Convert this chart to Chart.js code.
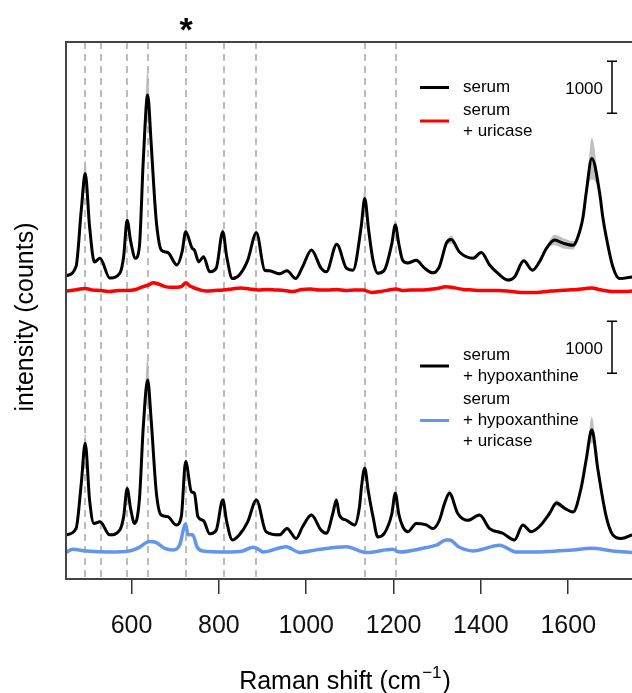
<!DOCTYPE html>
<html>
<head>
<meta charset="utf-8">
<script src="https://cdn.jsdelivr.net/npm/chart.js@4"></script>
<style>
  html, body { margin: 0; padding: 0; background: #fff; }
</style>
</head>
<body>
<canvas id="myChart" width="632" height="693"></canvas>
<script>
'use strict';
// Raman spectra, values (counts, stacked as plotted)
var serumShift = [450,473,485,494,504,515,528,550,573,582,590,598,609,618,627,637,645,653,658,668,683,704,716,724,739,744,754,765,779,794,809,818,831,847,866,886,905,916,939,956,976,992,1012,1034,1046,1070,1092,1107,1126,1134,1143,1153,1164,1179,1196,1204,1212,1221,1233,1252,1271,1290,1305,1321,1332,1351,1382,1401,1420,1439,1462,1477,1498,1518,1534,1550,1569,1588,1611,1626,1634,1641,1654,1672,1679,1687,1702,1717,1746];
var serumCounts = [5830,6010,7100,7800,6780,6100,6170,5790,5880,6200,6900,6500,6170,6390,8060,9310,8380,7290,6780,6330,6280,6040,6300,6680,6360,6330,6100,6200,5910,5980,6680,6200,5780,5850,6130,6660,5940,5930,5870,5930,5780,6010,6330,5980,5910,6440,5980,5940,6780,7320,6710,6130,5880,5940,6450,6810,6450,6130,6080,6130,5980,5890,6010,6460,6530,6290,6170,6280,6040,5880,5750,5810,6120,5940,6100,6360,6520,6460,6420,6680,6970,7420,8090,7420,6970,6580,6010,5780,5810];
// standard deviation (grey band), only where it shows
var serumSd = {494: 250, 590: 130, 637: 520, 724: 60, 809: 60, 886: 60, 1134: 190, 1204: 100, 1332: 80, 1569: 100, 1588: 100, 1611: 80, 1654: 400};

var uricaseShift = [450,470,494,510,530,550,570,590,610,625,640,650,660,675,690,705,715,724,735,750,770,790,810,830,850,870,890,910,930,950,970,990,1010,1030,1050,1070,1090,1110,1130,1150,1170,1190,1205,1220,1240,1260,1280,1300,1320,1340,1360,1380,1400,1420,1440,1460,1480,1500,1520,1540,1560,1580,1600,1620,1640,1655,1670,1690,1710,1730,1746];
var uricaseCounts = [5540,5560,5590,5560,5550,5530,5550,5550,5570,5620,5660,5700,5680,5630,5610,5610,5630,5700,5630,5580,5540,5550,5560,5580,5600,5580,5560,5570,5560,5550,5530,5570,5580,5560,5560,5570,5550,5560,5560,5510,5530,5560,5580,5550,5560,5560,5570,5590,5620,5600,5570,5560,5550,5550,5550,5540,5520,5510,5510,5520,5540,5550,5560,5570,5590,5600,5570,5540,5530,5530,5540];

var hypoShift = [450,473,485,494,504,514,528,550,573,582,590,598,607,618,627,637,645,657,668,683,702,714,724,737,744,752,765,779,794,809,818,831,847,866,886,908,939,956,977,992,1012,1034,1046,1061,1069,1076,1092,1111,1122,1127,1134,1142,1153,1164,1179,1196,1204,1212,1221,1233,1252,1275,1290,1305,1317,1328,1347,1370,1397,1420,1450,1477,1496,1515,1534,1557,1573,1592,1611,1630,1641,1654,1668,1687,1702,1721,1746];
var hypoCounts = [850,970,1840,2610,1520,1070,1100,850,940,1200,1740,1350,1070,1520,2930,3830,3060,1650,1230,1200,1040,1200,2260,1680,1650,1200,1120,870,940,1520,1100,750,850,1100,1520,910,850,970,780,1010,1230,940,880,1260,1520,1230,1130,1040,1390,1800,2130,1700,1200,810,880,1250,1650,1250,1010,910,1070,1040,970,1130,1460,1650,1260,1130,1230,970,880,750,1040,910,1010,1260,1460,1360,1290,1770,2290,2870,2100,1200,850,780,850];
var hypoSd = {494: 200, 590: 80, 637: 450, 724: 60, 1134: 100, 1204: 70, 1328: 60, 1573: 60, 1654: 250};

var hypoUricaseShift = [450,465,496,550,595,618,641,657,676,695,710,724,729,740,750,763,817,855,878,893,901,954,985,1023,1092,1137,1198,1214,1267,1298,1321,1328,1351,1382,1443,1480,1534,1611,1653,1702,1746];
var hypoUricaseCounts = [510,570,540,520,540,610,720,700,590,560,650,1060,850,850,620,540,520,540,610,560,520,620,510,560,620,510,570,520,590,650,750,750,610,540,650,520,520,560,590,540,510];

var defaultSd = 30;
var bandShifts = [494, 530, 590, 638, 725, 812, 886, 1134, 1205];
var starShift = 725;
var xTicks = [600, 800, 1000, 1200, 1400, 1600];
var xMin = 450, xMax = 1746;
var yMin = 0, yMax = 10330;
var scaleBarFrom = [8960, 3960];
var scaleBarSize = 1000;

var topLegend = [
  {color: '#000000', lines: ['serum']},
  {color: '#ff0000', lines: ['serum', '+ uricase']}
];
var bottomLegend = [
  {color: '#000000', lines: ['serum', '+ hypoxanthine']},
  {color: '#6495ed', lines: ['serum', '+ hypoxanthine', '+ uricase']}
];

var FONT = '"Liberation Sans", Arial, Helvetica, sans-serif';
Chart.defaults.font.family = FONT;

function toPoints(shift, counts) {
  return shift.map((s, i) => ({x: s, y: counts[i]}));
}
function bandPoints(shift, counts, sd, sign) {
  return shift.map((s, i) => ({x: s, y: counts[i] + sign * (sd[s] || defaultSd)}));
}
function lineSet(label, shift, counts, color, width) {
  return {
    label: label,
    data: toPoints(shift, counts),
    borderColor: color,
    borderWidth: width,
    pointRadius: 0,
    cubicInterpolationMode: 'monotone',
    fill: false,
    order: 1
  };
}
function bandSets(shift, counts, sd) {
  return [{
    data: bandPoints(shift, counts, sd, 1),
    borderWidth: 0,
    pointRadius: 0,
    cubicInterpolationMode: 'monotone',
    backgroundColor: 'rgba(185,185,185,0.9)',
    fill: '+1',
    order: 5
  }, {
    data: bandPoints(shift, counts, sd, -1),
    borderWidth: 0,
    pointRadius: 0,
    cubicInterpolationMode: 'monotone',
    fill: false,
    order: 5
  }];
}

function drawLegend(ctx, entries, startY) {
  var y = startY;
  ctx.font = '17px ' + FONT;
  ctx.textAlign = 'left';
  ctx.textBaseline = 'alphabetic';
  entries.forEach(e => {
    var n = e.lines.length;
    var mid = y + (n - 1) * 21 / 2 - 4.5;
    ctx.strokeStyle = e.color;
    ctx.lineWidth = 3;
    ctx.beginPath();
    ctx.moveTo(420, mid);
    ctx.lineTo(449, mid);
    ctx.stroke();
    ctx.fillStyle = '#000';
    e.lines.forEach((t, i) => ctx.fillText(t, 463, y + i * 21));
    y += n * 21 + 2;
  });
}

var overlay = {
  id: 'overlay',
  beforeDatasetsDraw: function (chart) {
    var ctx = chart.ctx, a = chart.chartArea, xs = chart.scales.x;
    ctx.save();
    ctx.strokeStyle = '#a8a8a8';
    ctx.lineWidth = 1.5;
    ctx.setLineDash([7, 5]);
    bandShifts.forEach(s => {
      var px = Math.round(xs.getPixelForValue(s));
      ctx.beginPath();
      ctx.moveTo(px, a.top);
      ctx.lineTo(px, a.bottom);
      ctx.stroke();
    });
    ctx.restore();
  },
  afterDraw: function (chart) {
    var ctx = chart.ctx, a = chart.chartArea, xs = chart.scales.x, ys = chart.scales.y;
    ctx.save();
    // box (right side runs off the picture)
    ctx.strokeStyle = '#444';
    ctx.lineWidth = 2;
    ctx.beginPath();
    ctx.moveTo(a.right + 10, a.top);
    ctx.lineTo(a.left, a.top);
    ctx.lineTo(a.left, a.bottom);
    ctx.lineTo(a.right + 10, a.bottom);
    ctx.stroke();

    // scale bars
    ctx.strokeStyle = '#000';
    ctx.lineWidth = 1.5;
    ctx.fillStyle = '#000';
    ctx.font = '17px ' + FONT;
    ctx.textAlign = 'right';
    ctx.textBaseline = 'middle';
    scaleBarFrom.forEach(v => {
      var y1 = ys.getPixelForValue(v), y2 = ys.getPixelForValue(v + scaleBarSize);
      var bx = 612;
      ctx.beginPath();
      ctx.moveTo(bx, y1); ctx.lineTo(bx, y2);
      ctx.moveTo(bx - 5, y1); ctx.lineTo(bx + 5, y1);
      ctx.moveTo(bx - 5, y2); ctx.lineTo(bx + 5, y2);
      ctx.stroke();
      ctx.fillText(String(scaleBarSize), 603, (y1 + y2) / 2 + 2);
    });

    drawLegend(ctx, topLegend, 92);
    drawLegend(ctx, bottomLegend, 360);

    // star over the 725 band
    ctx.font = 'bold 34px ' + FONT;
    ctx.textAlign = 'center';
    ctx.textBaseline = 'alphabetic';
    ctx.fillText('*', xs.getPixelForValue(starShift), 41);

    // x title with superscript
    var main = 'Raman shift (cm', sup = '\u22121', close = ')';
    ctx.font = '25px ' + FONT;
    var w1 = ctx.measureText(main).width, w3 = ctx.measureText(close).width;
    ctx.font = '17px ' + FONT;
    var w2 = ctx.measureText(sup).width;
    var x0 = 344 - (w1 + w2 + w3) / 2;
    ctx.textAlign = 'left';
    ctx.font = '25px ' + FONT;
    ctx.fillText(main, x0, 689);
    ctx.font = '17px ' + FONT;
    ctx.fillText(sup, x0 + w1 + 1, 678);
    ctx.font = '25px ' + FONT;
    ctx.fillText(close, x0 + w1 + w2 + 2, 689);

    // y title
    ctx.translate(33, 317);
    ctx.rotate(-Math.PI / 2);
    ctx.textAlign = 'center';
    ctx.fillText('intensity (counts)', 0, 0);
    ctx.restore();
  }
};

var datasets = [
  lineSet('serum', serumShift, serumCounts, '#000000', 3),
  lineSet('serum + uricase', uricaseShift, uricaseCounts, '#ff0000', 3.5),
  lineSet('serum + hypoxanthine', hypoShift, hypoCounts, '#000000', 3),
  lineSet('serum + hypoxanthine + uricase', hypoUricaseShift, hypoUricaseCounts, '#6495ed', 3.5)
].concat(bandSets(serumShift, serumCounts, serumSd), bandSets(hypoShift, hypoCounts, hypoSd));

var ctx = document.getElementById('myChart').getContext('2d');
new Chart(ctx, {
  type: 'line',
  data: {datasets: datasets},
  options: {
    responsive: false,
    animation: false,
    devicePixelRatio: 1,
    layout: {padding: {left: 66, top: 42, right: 0, bottom: 0}},
    plugins: {legend: {display: false}, tooltip: {enabled: false}},
    scales: {
      x: {
        type: 'linear',
        min: xMin,
        max: xMax,
        afterBuildTicks: function (s) { s.ticks = xTicks.map(v => ({value: v})); },
        afterFit: function (s) { s.height = 114; },
        border: {display: false},
        grid: {drawOnChartArea: false, drawTicks: true, tickLength: 15, color: '#333', lineWidth: 1.5},
        ticks: {
          color: '#111',
          font: {size: 25},
          padding: 17,
          maxRotation: 0,
          callback: function (v) { return String(v); }
        }
      },
      y: {
        display: false,
        min: yMin,
        max: yMax
      }
    }
  },
  plugins: [overlay]
});
</script>
</body>
</html>
